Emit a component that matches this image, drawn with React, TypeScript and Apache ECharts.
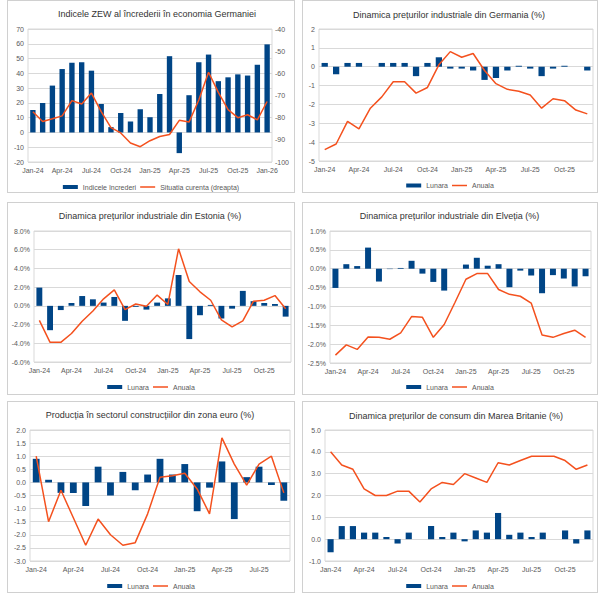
import React, { useEffect, useRef } from "react";
import * as echarts from "echarts";

const MONTHS = [
  "Jan-24", "Feb-24", "Mar-24", "Apr-24", "May-24", "Jun-24", "Jul-24", "Aug-24", "Sep-24", "Oct-24", "Nov-24", "Dec-24",
  "Jan-25", "Feb-25", "Mar-25", "Apr-25", "May-25", "Jun-25", "Jul-25", "Aug-25", "Sep-25", "Oct-25", "Nov-25", "Dec-25",
  "Jan-26",
];
const MONTHS_25 = MONTHS.slice(0, 25);
const MONTHS_24 = MONTHS.slice(0, 24);
const MONTHS_21 = MONTHS.slice(0, 21);

const ZEW_SENTIMENT = [15.2, 19.9, 31.7, 42.9, 47.1, 47.5, 41.8, 19.2, 3.6, 13.1, 7.4, 15.7, 10.3, 26.0, 51.6, -14.0, 25.2, 47.5, 52.7, 34.7, 37.3, 39.3, 38.5, 45.8, 59.6];
const ZEW_CURRENT = [-77.3, -81.7, -80.5, -79.2, -72.3, -73.8, -68.9, -77.3, -84.5, -86.9, -91.4, -93.1, -90.4, -88.5, -87.6, -81.2, -82.0, -72.0, -59.5, -68.6, -76.4, -80.0, -78.7, -81.0, -72.7];

const DE_PPI_MOM = [0.2, -0.4, 0.2, 0.2, 0.0, 0.2, 0.2, 0.2, -0.5, 0.2, 0.5, -0.1, -0.1, -0.2, -0.7, -0.6, -0.2, 0.05, -0.1, -0.5, -0.1, 0.05, 0.0, -0.2];
const DE_PPI_YOY = [-4.4, -4.1, -2.9, -3.3, -2.2, -1.6, -0.8, -0.8, -1.4, -1.1, 0.1, 0.8, 0.5, 0.7, -0.2, -0.9, -1.2, -1.3, -1.5, -2.2, -1.7, -1.8, -2.3, -2.5];

const EE_PPI_MOM = [1.95, -2.6, -0.45, 0.3, 1.05, 0.7, 0.35, 0.95, -1.6, -0.1, -0.4, 0.35, 0.8, 3.3, -3.55, -1.0, 0.1, -1.35, -0.3, 1.6, 0.5, 0.3, 0.2, -1.15];
const EE_PPI_YOY = [-1.55, -3.9, -3.9, -2.95, -1.65, -0.55, 0.75, 1.7, -0.4, 0.2, -0.05, 1.15, 0.15, 6.1, 2.6, 1.5, 0.6, -1.5, -2.25, -1.6, 0.5, 0.6, 1.1, -0.3];

const CH_PPI_MOM = [-0.51, 0.12, 0.07, 0.56, -0.34, -0.01, 0.02, 0.21, -0.13, -0.35, -0.58, 0.0, 0.11, 0.29, 0.08, 0.12, -0.49, -0.05, -0.18, -0.65, -0.17, -0.26, -0.47, -0.2];
const CH_PPI_YOY = [-2.29, -2.02, -2.14, -1.81, -1.82, -1.87, -1.7, -1.27, -1.29, -1.82, -1.48, -0.89, -0.28, -0.13, -0.13, -0.55, -0.68, -0.73, -0.91, -1.76, -1.82, -1.72, -1.63, -1.82];

const EA_CONSTR_MOM = [0.9, 0.1, -0.4, -0.4, -0.9, 0.6, -0.5, 0.4, -0.3, 0.3, 0.9, 0.3, 0.7, -1.1, -0.2, 0.8, -1.4, 0.2, 0.6, -0.1, -0.7];
const EA_CONSTR_YOY = [1.0, -1.5, -0.3, -1.35, -2.4, -1.4, -2.0, -2.4, -2.3, -1.2, 0.2, 0.25, 0.35, -0.25, -1.2, 1.7, 0.7, -0.1, 0.7, 1.0, -0.4];

const UK_CPI_MOM = [-0.6, 0.6, 0.6, 0.3, 0.3, 0.1, -0.2, 0.3, 0.0, 0.6, 0.1, 0.3, -0.1, 0.4, 0.3, 1.2, 0.2, 0.3, 0.1, 0.3, 0.0, 0.4, -0.2, 0.4];
const UK_CPI_YOY = [4.0, 3.4, 3.2, 2.3, 2.0, 2.0, 2.2, 2.2, 1.7, 2.3, 2.6, 2.5, 3.0, 2.8, 2.6, 3.5, 3.4, 3.6, 3.8, 3.8, 3.8, 3.6, 3.2, 3.4];

const BAR_COLOR = "#004586";
const LINE_COLOR = "#f4511e";
const FONT = "'Liberation Sans', Arial, sans-serif";
const GRID_COLOR = "#d9d9d9";
const LABEL_COLOR = "#595959";
const BAR_ICON = "path://M0,0L15,0L15,4L0,4Z";
const LINE_ICON = "path://M0,0L10,0L10,1L0,1Z";

type Spec = {
  box: [number, number, number, number];
  plot: { L: number; R: number; T: number; B: number };
  title: string;
  titleX: number;
  titleY: number;
  legendY: number;
  categories: string[];
  barName: string;
  lineName: string;
  bars: number[];
  line: number[];
  yMin: number;
  yMax: number;
  yInterval: number;
  yFmt: (v: number) => string;
  right?: { min: number; max: number; interval: number };
};

const int = (v: number) => String(Math.round(v));
const pct1 = (v: number) => v.toFixed(1) + "%";
const fix1 = (v: number) => v.toFixed(1);

const SPECS: Spec[] = [
  {
    box: [7, 0, 288, 193],
    plot: { L: 28, R: 272, T: 29, B: 162 },
    title: "Indicele ZEW al încrederii în economia Germaniei",
    titleX: 157, titleY: 13.5, legendY: 188,
    categories: MONTHS_25,
    barName: "Indicele încrederi", lineName: "Situatia curenta (dreapta)",
    bars: ZEW_SENTIMENT, line: ZEW_CURRENT,
    yMin: -20, yMax: 70, yInterval: 10, yFmt: int,
    right: { min: -100, max: -40, interval: 10 },
  },
  {
    box: [302, 0, 296, 193],
    plot: { L: 319, R: 593, T: 29, B: 161 },
    title: "Dinamica prețurilor industriale din Germania (%)",
    titleX: 449, titleY: 14.5, legendY: 186.5,
    categories: MONTHS_24,
    barName: "Lunara", lineName: "Anuala",
    bars: DE_PPI_MOM, line: DE_PPI_YOY,
    yMin: -5, yMax: 2, yInterval: 1, yFmt: int,
  },
  {
    box: [7, 202, 288, 193],
    plot: { L: 34, R: 291, T: 231, B: 362 },
    title: "Dinamica prețurilor industriale din Estonia (%)",
    titleX: 150, titleY: 216, legendY: 388,
    categories: MONTHS_24,
    barName: "Lunara", lineName: "Anuala",
    bars: EE_PPI_MOM, line: EE_PPI_YOY,
    yMin: -6, yMax: 8, yInterval: 2, yFmt: pct1,
  },
  {
    box: [302, 202, 296, 193],
    plot: { L: 330, R: 591, T: 231, B: 363 },
    title: "Dinamica prețurilor industriale din Elveția (%)",
    titleX: 449.5, titleY: 216, legendY: 388,
    categories: MONTHS_24,
    barName: "Lunara", lineName: "Anuala",
    bars: CH_PPI_MOM, line: CH_PPI_YOY,
    yMin: -2.5, yMax: 1, yInterval: 0.5, yFmt: pct1,
  },
  {
    box: [7, 401, 288, 192],
    plot: { L: 30, R: 290, T: 430, B: 561 },
    title: "Producția în sectorul construcțiilor din zona euro (%)",
    titleX: 150, titleY: 415, legendY: 587,
    categories: MONTHS_21,
    barName: "Lunara", lineName: "Anuala",
    bars: EA_CONSTR_MOM, line: EA_CONSTR_YOY,
    yMin: -3, yMax: 2, yInterval: 0.5, yFmt: fix1,
  },
  {
    box: [302, 401, 296, 192],
    plot: { L: 325, R: 593, T: 430, B: 561 },
    title: "Dinamica prețurilor de consum din Marea Britanie (%)",
    titleX: 456, titleY: 416, legendY: 587,
    categories: MONTHS_24,
    barName: "Lunara", lineName: "Anuala",
    bars: UK_CPI_MOM, line: UK_CPI_YOY,
    yMin: -1, yMax: 5, yInterval: 1, yFmt: fix1,
  },
];

function buildOption(s: Spec): any {
  const ox = s.box[0] + 1;
  const oy = s.box[1] + 1;
  const labelStyle = { fontSize: 7, color: LABEL_COLOR, fontFamily: FONT };
  const yAxes: any[] = [
    {
      type: "value",
      min: s.yMin,
      max: s.yMax,
      interval: s.yInterval,
      axisLine: { show: false },
      axisTick: { show: false },
      splitLine: { show: true, lineStyle: { color: GRID_COLOR, width: 1 } },
      axisLabel: { ...labelStyle, margin: 4, formatter: s.yFmt },
    },
  ];
  if (s.right) {
    yAxes.push({
      type: "value",
      position: "right",
      min: s.right.min,
      max: s.right.max,
      interval: s.right.interval,
      axisLine: { show: false },
      axisTick: { show: false },
      splitLine: { show: false },
      axisLabel: { ...labelStyle, margin: 3, formatter: int },
    });
  }
  return {
    animation: false,
    textStyle: { fontFamily: FONT },
    grid: {
      left: s.plot.L - ox,
      top: s.plot.T - oy,
      width: s.plot.R - s.plot.L,
      height: s.plot.B - s.plot.T,
      show: true,
      borderColor: GRID_COLOR,
      borderWidth: 1,
      backgroundColor: "transparent",
    },
    graphic: [
      {
        type: "text",
        x: s.titleX - ox,
        y: s.titleY - oy,
        style: {
          text: s.title,
          fontSize: 9,
          fontFamily: FONT,
          fill: "#333333",
          align: "center",
          verticalAlign: "middle",
        },
      },
    ],
    legend: {
      left: "center",
      top: s.legendY - oy - 4.5,
      padding: 0,
      itemWidth: 15,
      itemHeight: 4,
      itemGap: 4,
      symbolKeepAspect: true,
      textStyle: { fontSize: 7, color: LABEL_COLOR, fontFamily: FONT },
      data: [
        { name: s.barName, icon: BAR_ICON },
        { name: s.lineName, icon: LINE_ICON },
      ],
    },
    xAxis: {
      type: "category",
      data: s.categories,
      axisLine: { show: false },
      axisTick: { show: false },
      splitLine: { show: false },
      axisLabel: { ...labelStyle, margin: 5, interval: 2 },
    },
    yAxis: yAxes,
    series: [
      {
        type: "bar",
        name: s.barName,
        data: s.bars,
        barWidth: "55%",
        itemStyle: { color: BAR_COLOR },
        yAxisIndex: 0,
      },
      {
        type: "line",
        name: s.lineName,
        data: s.line,
        symbol: "none",
        lineStyle: { color: LINE_COLOR, width: 1.5 },
        itemStyle: { color: LINE_COLOR },
        yAxisIndex: s.right ? 1 : 0,
      },
    ],
  };
}

function Panel({ spec }: { spec: Spec }) {
  const ref = useRef<HTMLDivElement>(null);
  useEffect(() => {
    if (!ref.current) return;
    const chart = echarts.init(ref.current, null, { renderer: "svg" });
    chart.setOption(buildOption(spec));
    return () => chart.dispose();
  }, [spec]);
  const [x, y, w, h] = spec.box;
  return (
    <div
      style={{
        position: "absolute",
        left: x,
        top: y,
        width: w,
        height: h,
        border: "1px solid #d0d0d0",
        boxSizing: "border-box",
        background: "#ffffff",
      }}
    >
      <div ref={ref} style={{ width: w - 2, height: h - 2 }} />
    </div>
  );
}

export default function App() {
  return (
    <div
      style={{
        position: "fixed",
        left: 0,
        top: 0,
        width: 600,
        height: 593,
        background: "#ffffff",
        overflow: "hidden",
      }}
    >
      {SPECS.map((s, i) => (
        <Panel key={i} spec={s} />
      ))}
    </div>
  );
}
